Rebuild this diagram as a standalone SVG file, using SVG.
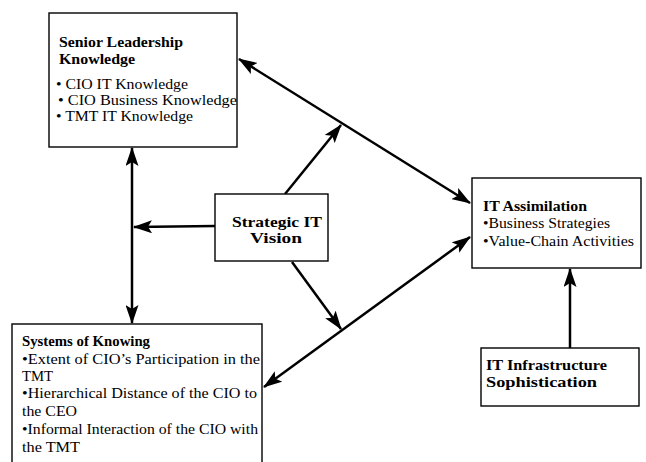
<svg xmlns="http://www.w3.org/2000/svg" width="646" height="462" viewBox="0 0 646 462">
<style>
.box{fill:#fff;stroke:#000;stroke-width:1.4}
text{font-family:"Liberation Serif","Times New Roman",serif;font-size:15px;fill:#000}
.b{font-weight:bold}
.c{stroke:#000;stroke-width:2.5;fill:none}
</style>
<defs>
<marker id="ah" markerUnits="userSpaceOnUse" markerWidth="19" markerHeight="13" viewBox="0 0 19 13" refX="18" refY="6.5" orient="auto-start-reverse">
<path d="M0,0 L19,6.5 L0,13 L4,6.5 Z" fill="#000"/>
</marker>
</defs>
<rect width="646" height="462" fill="#fff"/>
<g id="connectors">
<line class="c" x1="239" y1="59" x2="470" y2="203" marker-start="url(#ah)" marker-end="url(#ah)"/>
<line class="c" x1="285" y1="194" x2="341" y2="125" marker-end="url(#ah)"/>
<line class="c" x1="215" y1="226" x2="134" y2="227" marker-end="url(#ah)"/>
<line class="c" x1="132" y1="148" x2="132" y2="323" marker-start="url(#ah)" marker-end="url(#ah)"/>
<line class="c" x1="264" y1="387" x2="470" y2="237" marker-start="url(#ah)" marker-end="url(#ah)"/>
<line class="c" x1="292" y1="262" x2="341" y2="329" marker-end="url(#ah)"/>
<line class="c" x1="570" y1="348" x2="570" y2="269" marker-end="url(#ah)"/>
</g>
<g id="senior-leadership">
<rect class="box" x="49" y="13" width="188" height="134"/>
<text class="b" x="59" y="47" textLength="124" lengthAdjust="spacingAndGlyphs">Senior Leadership</text>
<text class="b" x="59" y="64" textLength="76" lengthAdjust="spacingAndGlyphs">Knowledge</text>
<text x="56" y="89" textLength="132" lengthAdjust="spacingAndGlyphs">• CIO IT Knowledge</text>
<text x="58" y="105" textLength="179" lengthAdjust="spacingAndGlyphs">•  CIO Business Knowledge</text>
<text x="56" y="121" textLength="137" lengthAdjust="spacingAndGlyphs">• TMT IT Knowledge</text>
</g>
<g id="strategic-it-vision">
<rect class="box" x="215" y="194" width="113" height="67"/>
<text class="b" x="232" y="227" textLength="90" lengthAdjust="spacingAndGlyphs">Strategic IT</text>
<text class="b" x="250" y="243" textLength="52" lengthAdjust="spacingAndGlyphs">Vision</text>
</g>
<g id="it-assimilation">
<rect class="box" x="472" y="178" width="169" height="90"/>
<text class="b" x="483" y="211" textLength="104" lengthAdjust="spacingAndGlyphs">IT Assimilation</text>
<text x="483" y="228" textLength="127" lengthAdjust="spacingAndGlyphs">•Business Strategies</text>
<text x="483" y="246" textLength="151" lengthAdjust="spacingAndGlyphs">•Value-Chain Activities</text>
</g>
<g id="it-infrastructure">
<rect class="box" x="481" y="348" width="158" height="58"/>
<text class="b" x="486" y="370" textLength="121" lengthAdjust="spacingAndGlyphs">IT Infrastructure</text>
<text class="b" x="486" y="387" textLength="111" lengthAdjust="spacingAndGlyphs">Sophistication</text>
</g>
<g id="systems-of-knowing">
<rect class="box" x="12" y="324" width="250" height="150"/>
<text class="b" x="22" y="346" textLength="128" lengthAdjust="spacingAndGlyphs">Systems of Knowing</text>
<text x="22" y="364" textLength="238" lengthAdjust="spacingAndGlyphs">•Extent of CIO’s Participation in the</text>
<text x="22" y="381" textLength="31" lengthAdjust="spacingAndGlyphs">TMT</text>
<text x="22" y="398" textLength="235" lengthAdjust="spacingAndGlyphs">•Hierarchical Distance of the CIO to</text>
<text x="22" y="416" textLength="55" lengthAdjust="spacingAndGlyphs">the CEO</text>
<text x="22" y="434" textLength="236" lengthAdjust="spacingAndGlyphs">•Informal Interaction of the CIO with</text>
<text x="22" y="452" textLength="58" lengthAdjust="spacingAndGlyphs">the TMT</text>
</g>
</svg>
